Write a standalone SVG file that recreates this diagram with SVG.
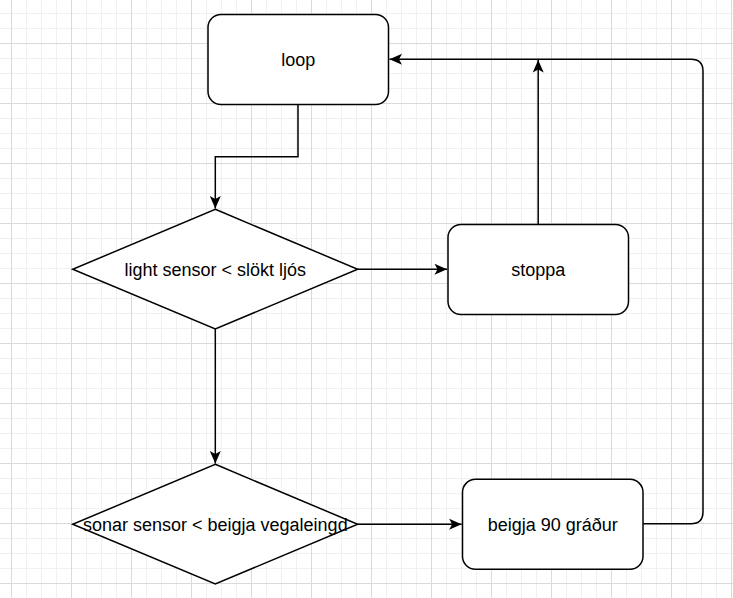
<svg xmlns="http://www.w3.org/2000/svg" width="733" height="598" viewBox="0 0 733 598">
  <style>
    .node { fill: #ffffff; stroke: #000000; stroke-width: 1.5; }
    .lbl { font-family: "Liberation Sans", Arial, Helvetica, sans-serif; font-size: 18px; fill: #000000; text-anchor: middle; }
    .edge { fill: none; stroke: #000000; stroke-width: 1.5; }
  </style>
  <defs>
    <pattern id="grid" patternUnits="userSpaceOnUse" x="11" y="43" width="60" height="60">
      <path d="M15.5,0 V60 M30.5,0 V60 M45.5,0 V60 M0,15.5 H60 M0,30.5 H60 M0,45.5 H60" stroke="#f0f0f0" stroke-width="1" fill="none"/>
      <path d="M0.5,0 V60 M0,0.5 H60" stroke="#dadada" stroke-width="1" fill="none"/>
    </pattern>
    <marker id="arr" markerUnits="userSpaceOnUse" markerWidth="14" markerHeight="12" viewBox="-13 -6 14 12" refX="0" refY="0" orient="auto">
      <path d="M0,0 L-12.5,-5.5 L-9.5,0 L-12.5,5.5 Z" fill="#000000"/>
    </marker>
  </defs>
  <rect x="0" y="0" width="733" height="598" fill="#ffffff"/>
  <rect x="0" y="0" width="733" height="598" fill="url(#grid)"/>

  <g id="connectors">
    <path class="edge" d="M298,104.3 V156.7 H215.3 V208.5" marker-end="url(#arr)"/>
    <path class="edge" d="M357.7,269.3 H447" marker-end="url(#arr)"/>
    <path class="edge" d="M538.2,224.3 V60" marker-end="url(#arr)"/>
    <path class="edge" d="M215.3,329 V463.5" marker-end="url(#arr)"/>
    <path class="edge" d="M357.7,524.3 H461.6" marker-end="url(#arr)"/>
    <path class="edge" d="M643.3,523.8 H691 Q703,523.8 703,511.8 V71.3 Q703,59.3 691,59.3 H389.5" marker-end="url(#arr)"/>
  </g>

  <g id="node-loop">
    <rect class="node" x="208" y="14.5" width="180.5" height="90" rx="13" ry="13"/>
    <text class="lbl" x="298.2" y="65.5">loop</text>
  </g>

  <g id="node-light">
    <polygon class="node" points="215.3,209.3 357.7,269.3 215.3,329 72.7,269.3"/>
    <text class="lbl" x="215.3" y="275.5">light sensor &lt; slökt ljós</text>
  </g>

  <g id="node-stoppa">
    <rect class="node" x="448" y="224.5" width="180.5" height="90" rx="13" ry="13"/>
    <text class="lbl" x="538.2" y="275.5">stoppa</text>
  </g>

  <g id="node-sonar">
    <polygon class="node" points="215.3,464.3 357.7,524.3 215.3,584 72.7,524.3"/>
    <text class="lbl" x="215.3" y="530.5">sonar sensor &lt; beigja vegaleingd</text>
  </g>

  <g id="node-beigja">
    <rect class="node" x="462.5" y="479.3" width="180.5" height="90" rx="13" ry="13"/>
    <text class="lbl" x="552.8" y="530.5">beigja 90 gráður</text>
  </g>
</svg>
